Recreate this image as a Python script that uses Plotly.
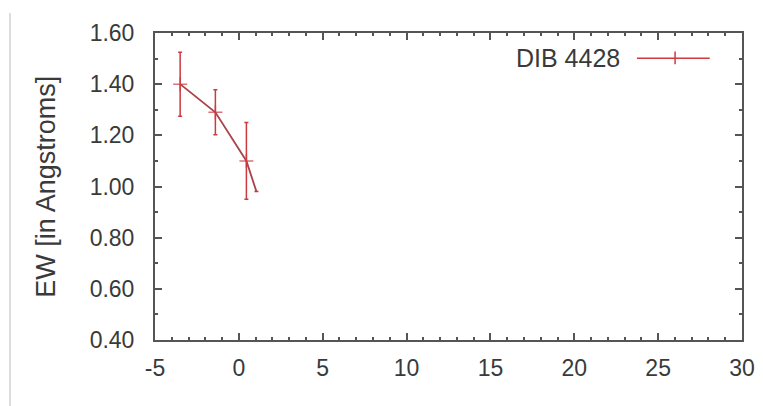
import plotly.graph_objects as go

x_vals = [-3.5, -1.4, 0.45, 1.05]
ew_vals = [1.40, 1.29, 1.10, 0.98]
ew_err = [0.125, 0.088, 0.15, 0.0]
marker_sizes = [10, 10, 10, 0]
series_name = "DIB 4428"
x_ticks = [-5, 0, 5, 10, 15, 20, 25, 30]
y_ticks = [0.40, 0.60, 0.80, 1.00, 1.20, 1.40, 1.60]

red = "#cc3a40"
axis_col = "#555555"
text_col = "#3a3a3a"
family = "Liberation Sans, Arial, sans-serif"
font = dict(family=family, size=23, color=text_col)

fig = go.Figure()
fig.add_trace(go.Scatter(
    x=x_vals, y=ew_vals, mode="lines+markers", name=series_name,
    line=dict(color="#a8444a", width=1.8),
    marker=dict(symbol="cross-thin", size=marker_sizes, line=dict(color=red, width=1.5), color=red),
    error_y=dict(type="data", array=ew_err, visible=True, color=red, thickness=1.5, width=2),
    showlegend=False,
))

axis_common = dict(
    showgrid=False, zeroline=False, showline=True, linecolor=axis_col, linewidth=2,
    mirror="allticks", ticks="inside", ticklen=7, tickcolor=axis_col, tickwidth=1.5,
    tickfont=font, automargin=False,
)
fig.update_xaxes(range=[-5, 30], tickvals=x_ticks, ticktext=[str(v) for v in x_ticks],
                 minor=dict(dtick=1, ticks="inside", ticklen=3, tickcolor=axis_col),
                 ticklabelstandoff=6, **axis_common)
fig.update_yaxes(range=[0.40, 1.60], tickvals=y_ticks, ticktext=[f"{v:.2f}" for v in y_ticks],
                 minor=dict(dtick=0.1, ticks="inside", ticklen=3, tickcolor=axis_col),
                 ticklabelstandoff=14, **axis_common)

# y-axis title
fig.add_annotation(xref="paper", yref="paper", x=-0.187, y=0.5, xanchor="center", yanchor="middle",
                   text="EW [in Angstroms]", textangle=-90, showarrow=False,
                   font=dict(family=family, size=27, color=text_col))

# legend drawn manually (text left of sample, gnuplot style)
fig.add_annotation(xref="paper", yref="paper", x=0.795, y=0.92, xanchor="right", yanchor="middle",
                   text=series_name, showarrow=False, font=dict(family=family, size=25, color=text_col))
fig.add_shape(type="line", xref="paper", yref="paper", x0=0.821, x1=0.945, y0=0.918, y1=0.918,
              line=dict(color=red, width=1.5))
fig.add_shape(type="line", xref="paper", yref="paper", x0=0.886, x1=0.886, y0=0.898, y1=0.94,
              line=dict(color=red, width=1.5))
# left edge artifact line
fig.add_shape(type="line", xref="paper", yref="paper", x0=-0.247, x1=-0.247, y0=-0.25, y1=1.065,
              line=dict(color="#bbbbbb", width=1))

fig.update_layout(
    width=763, height=406,
    margin=dict(l=147, r=29, t=25, b=74),
    paper_bgcolor="white", plot_bgcolor="white",
    font=font,
)
fig.write_html("out.html")
